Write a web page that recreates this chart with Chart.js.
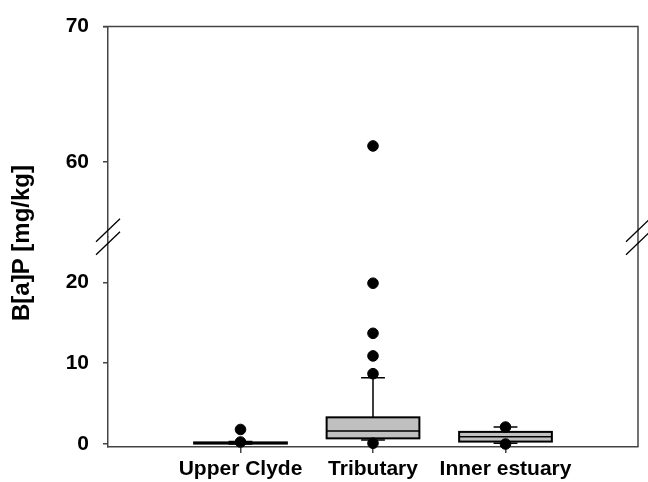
<!DOCTYPE html>
<html lang="en">
<head>
    <meta charset="UTF-8" />
    <title>B[a]P box plot</title>
    <script src="https://cdn.jsdelivr.net/npm/chart.js"></script>
    <style>
        body { margin: 0; background: #ffffff; }
        .wrap { width: 648px; height: 482px; }
    </style>
</head>
<body>
<div class="wrap"><canvas id="chart"></canvas></div>

<script>
    // categories and box statistics (mg/kg)
    const groups = ['Upper Clyde', 'Tributary', 'Inner estuary'];
    const whiskerLow = [0.0, 0.5, 0.1];
    const q1 = [0.05, 0.7, 0.3];
    const median = [0.1, 1.6, 0.9];
    const q3 = [0.2, 3.3, 1.5];
    const whiskerHigh = [0.3, 8.2, 2.1];

    // outliers per group
    const outliersUpperClyde = [0.25, 1.8];
    const outliersTributary = [0.1, 8.7, 10.9, 13.7, 19.9, 61.2];
    const outliersInner = [0.0, 2.1];

    // broken y axis: lower and upper segment
    const lowRange = [-0.37, 25.64];
    const highRange = [54.5, 70];
    const lowTicks = [0, 10, 20];
    const highTicks = [60, 70];

    const axisColor = '#444444';
    Chart.defaults.font.family = "'Liberation Sans', Arial, sans-serif";
    Chart.defaults.color = '#000000';

    const allOutliers = [outliersUpperClyde, outliersTributary, outliersInner];
    const lowPoints = [];
    const highPoints = [];
    allOutliers.forEach((list, i) => {
        list.forEach(v => {
            if (v <= lowRange[1]) lowPoints.push({ x: i + 1, y: v });
            else highPoints.push({ x: i + 1, y: v });
        });
    });

    // draws the boxes and whiskers through the chart scales
    const boxPlugin = {
        id: 'boxes',
        beforeDatasetsDraw(chart) {
            const ctx = chart.ctx;
            const x = chart.scales.x;
            const y = chart.scales.yLow;
            ctx.save();
            groups.forEach((g, i) => {
                const left = x.getPixelForValue(i + 1 - 0.35);
                const right = x.getPixelForValue(i + 1 + 0.35);
                const cx = x.getPixelForValue(i + 1);
                const capL = x.getPixelForValue(i + 1 - 0.09);
                const capR = x.getPixelForValue(i + 1 + 0.09);
                const yq1 = y.getPixelForValue(q1[i]);
                const yq3 = y.getPixelForValue(q3[i]);
                const ymed = y.getPixelForValue(median[i]);
                const ylo = y.getPixelForValue(whiskerLow[i]);
                const yhi = y.getPixelForValue(whiskerHigh[i]);

                ctx.strokeStyle = '#000000';
                ctx.lineWidth = 1.5;
                ctx.beginPath();
                ctx.moveTo(cx, yq3); ctx.lineTo(cx, yhi);
                ctx.moveTo(capL, yhi); ctx.lineTo(capR, yhi);
                ctx.moveTo(cx, yq1); ctx.lineTo(cx, ylo);
                ctx.moveTo(capL, ylo); ctx.lineTo(capR, ylo);
                ctx.stroke();

                ctx.fillStyle = '#c0c0c0';
                ctx.fillRect(left, yq3, right - left, yq1 - yq3);
                ctx.lineWidth = 2;
                ctx.strokeRect(left, yq3, right - left, yq1 - yq3);

                ctx.lineWidth = 1.5;
                ctx.beginPath();
                ctx.moveTo(left, ymed); ctx.lineTo(right, ymed);
                ctx.stroke();
            });
            ctx.restore();
        },
        afterDraw(chart) {
            const ctx = chart.ctx;
            const a = chart.chartArea;
            const by = chart.scales.yLow.top;
            ctx.save();
            // top and right frame
            ctx.strokeStyle = axisColor;
            ctx.lineWidth = 1.5;
            ctx.beginPath();
            ctx.moveTo(a.left - 5, a.top); ctx.lineTo(a.right, a.top);
            ctx.lineTo(a.right, a.bottom);
            ctx.stroke();

            // axis break marks
            ctx.strokeStyle = '#000000';
            ctx.lineWidth = 1.3;
            [a.left, a.right].forEach(ax => {
                [-6.5, 6.5].forEach(d => {
                    ctx.beginPath();
                    ctx.moveTo(ax - 12, by + d + 11.5);
                    ctx.lineTo(ax + 12, by + d - 11.5);
                    ctx.stroke();
                });
            });

            // y axis title
            ctx.translate(22, 243);
            ctx.rotate(-Math.PI / 2);
            ctx.fillStyle = '#000000';
            ctx.font = "bold 24px 'Liberation Sans', Arial, sans-serif";
            ctx.textAlign = 'center';
            ctx.textBaseline = 'middle';
            ctx.fillText('B[a]P [mg/kg]', 0, 0);
            ctx.restore();
        }
    };

    const yScale = (range, tickList) => ({
        type: 'linear',
        position: 'left',
        stack: 'y',
        stackWeight: 1,
        min: range[0],
        max: range[1],
        afterBuildTicks: s => { s.ticks = tickList.map(v => ({ value: v })); },
        afterFit: s => { s.width = 58; },
        grid: { drawOnChartArea: false, tickLength: 5, color: axisColor, lineWidth: 1.5 },
        border: { color: axisColor, width: 1.5 },
        ticks: { padding: 14, font: { size: 21, weight: 'bold' }, color: '#000000' }
    });

    new Chart(document.getElementById('chart'), {
        type: 'scatter',
        data: {
            datasets: [
                { data: lowPoints, yAxisID: 'yLow', backgroundColor: '#000000', borderColor: '#000000', pointRadius: 5.3, clip: false },
                { data: highPoints, yAxisID: 'yHigh', backgroundColor: '#000000', borderColor: '#000000', pointRadius: 5.3, clip: false }
            ]
        },
        options: {
            responsive: true,
            maintainAspectRatio: false,
            animation: false,
            events: [],
            layout: { padding: { left: 50, right: 10, top: 23, bottom: 0 } },
            plugins: { legend: { display: false }, tooltip: { enabled: false } },
            scales: {
                x: {
                    type: 'linear',
                    min: 0,
                    max: 4,
                    afterBuildTicks: s => { s.ticks = groups.map((g, i) => ({ value: i + 1 })); },
                    afterFit: s => { s.height = 35; },
                    grid: { drawOnChartArea: false, tickLength: 6, color: axisColor, lineWidth: 1.5 },
                    border: { color: axisColor, width: 1.5 },
                    ticks: {
                        padding: 4,
                        maxRotation: 0,
                        font: { size: 21, weight: 'bold' },
                        color: '#000000',
                        callback: v => groups[v - 1]
                    }
                },
                // lower segment listed first so it is stacked below the upper one
                yLow: yScale(lowRange, lowTicks),
                yHigh: yScale(highRange, highTicks)
            }
        },
        plugins: [boxPlugin]
    });
</script>
</body>
</html>
